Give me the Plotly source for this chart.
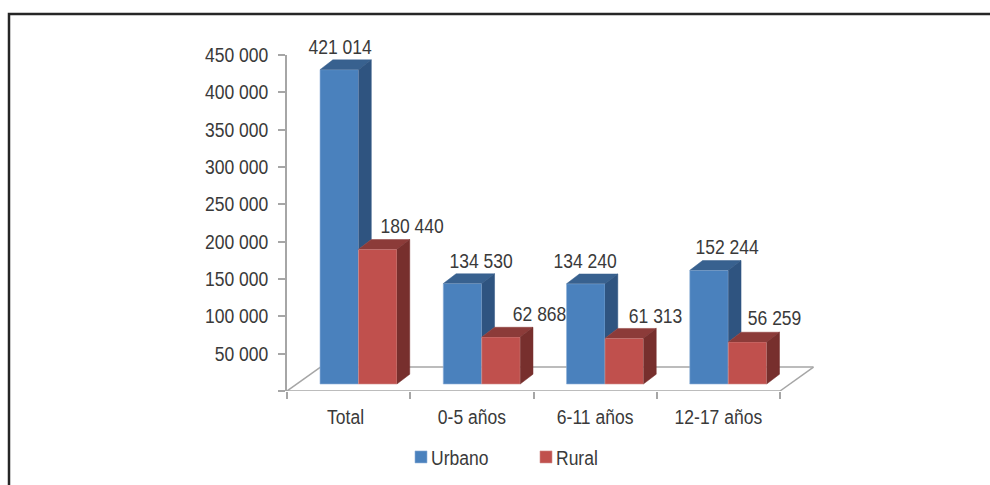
import plotly.graph_objects as go

categories = ["Total", "0-5 años", "6-11 años", "12-17 años"]
urbano = [421014, 134530, 134240, 152244]
rural = [180440, 62868, 61313, 56259]
y_ticks = [0, 50000, 100000, 150000, 200000, 250000, 300000, 350000, 400000, 450000]
y_labels = ["", "50 000", "100 000", "150 000", "200 000", "250 000", "300 000", "350 000", "400 000", "450 000"]

W, H = 990, 485
L, R, T, B = 287, 814, 55, 391.5
PX_X = (780 - 287) / 4            # pixels per category
PX_Y = (B - T) / 450000           # pixels per value unit
BASE = 7.0 / PX_Y                 # bar foot above the front floor edge
DX = 12.8 / PX_X                  # bar depth
DY = 9.8 / PX_Y
FLOOR_DX = 33.5 / PX_X
FLOOR_DY = 24 / PX_Y
X_RANGE = (R - L) / PX_X
OFF_U, OFF_R, BW = 0.268, 0.580, 0.312

TXT = "#3a3a3a"
FONT = "Liberation Sans"
BLUE, BLUE_TOP, BLUE_SIDE = "#4a81bd", "#38618f", "#2f5480"
RED, RED_TOP, RED_SIDE = "#c0504d", "#8c3b39", "#772f2d"

fig = go.Figure()


def poly(xs, ys, color):
    fig.add_trace(go.Scatter(x=xs, y=ys, mode="lines", fill="toself", fillcolor=color,
                             line=dict(color=color, width=0.5), showlegend=False, hoverinfo="skip"))


fig.add_trace(go.Bar(name="Urbano", x=list(range(4)), y=urbano, base=BASE, offset=OFF_U, width=BW,
                     marker=dict(color=BLUE, line=dict(color="#8fb0d8", width=0.6))))
fig.add_trace(go.Bar(name="Rural", x=list(range(4)), y=rural, base=BASE, offset=OFF_R, width=BW,
                     marker=dict(color=RED, line=dict(color="#d08d8b", width=0.6))))

for i in range(4):
    # blue: side face is hidden below the red bar's top edge
    x0, x1 = i + OFF_U, i + OFF_U + BW
    top = urbano[i] + BASE
    rtop = rural[i] + BASE
    poly([x0, x0 + DX, x1 + DX, x1], [top, top + DY, top + DY, top], BLUE_TOP)
    poly([x1, x1 + DX, x1 + DX, x1], [top, top + DY, rtop + DY, rtop], BLUE_SIDE)
    # red
    x0, x1 = i + OFF_R, i + OFF_R + BW
    poly([x0, x0 + DX, x1 + DX, x1], [rtop, rtop + DY, rtop + DY, rtop], RED_TOP)
    poly([x1, x1 + DX, x1 + DX, x1], [rtop, rtop + DY, BASE + DY, BASE], RED_SIDE)

# floor outline, below the bars
floor = [
    (0, 0, 4, 0),
    (4, 0, 4 + FLOOR_DX, FLOOR_DY),
    (FLOOR_DX, FLOOR_DY, 4 + FLOOR_DX, FLOOR_DY),
    (0, 0, FLOOR_DX, FLOOR_DY),
]
shapes = [dict(type="line", xref="x", yref="y", x0=a, y0=b, x1=c, y1=d, layer="below",
               line=dict(color="#a6a6a6", width=1.5)) for a, b, c, d in floor]

# frame around the chart
shapes.append(dict(type="rect", xref="paper", yref="paper",
                   x0=(9 - L) / (R - L), x1=(1005 - L) / (R - L),
                   y0=(B - 500) / (B - T), y1=(B - 14) / (B - T),
                   line=dict(color="#262626", width=2.5)))

# data labels: pixel shift from the bar's top centre
label_shift_u = [-6, 12, -7.5, 11.5]
label_shift_r = [28, 32, 25, 21]
label_rise_u = [23, 22.5, 22.7, 23]
label_rise_r = [23, 23, 22, 24]
annotations = []
for i in range(4):
    for vals, off, shift, rise in ((urbano, OFF_U, label_shift_u, label_rise_u),
                                   (rural, OFF_R, label_shift_r, label_rise_r)):
        annotations.append(dict(x=i + off + BW / 2 + DX / 2, y=vals[i] + BASE, xref="x", yref="y",
                                text=f"{vals[i]:,}".replace(",", " "), showarrow=False,
                                xshift=shift[i], yshift=rise[i],
                                font=dict(family=FONT, size=20, color=TXT)))

fig.update_layout(
    width=W, height=H, autosize=False,
    margin=dict(l=L, r=W - R, t=T, b=H - B, pad=0, autoexpand=False),
    paper_bgcolor="white", plot_bgcolor="white",
    barmode="overlay",
    font=dict(family=FONT, size=20, color=TXT),
    shapes=shapes, annotations=annotations,
    legend=dict(orientation="h", x=(391 - L) / (R - L), xanchor="left",
                y=(B - 438) / (B - T), yanchor="top", entrywidth=80, entrywidthmode="pixels",
                bgcolor="rgba(0,0,0,0)", font=dict(family=FONT, size=20, color=TXT)),
    xaxis=dict(range=[0, X_RANGE], showgrid=False, zeroline=False, showline=False,
               tickvals=[0.475, 1.5, 2.5, 3.5], ticktext=categories, ticks="", ticklabelstandoff=12,
               minor=dict(tickvals=[0, 1, 2, 3, 4], ticks="outside", ticklen=7, tickwidth=1.5, tickcolor="#a6a6a6")),
    yaxis=dict(range=[0, 450000], showgrid=False, zeroline=False, showline=True, linecolor="#a6a6a6", linewidth=1.5,
               tickvals=y_ticks, ticktext=y_labels, ticks="outside", ticklen=7, tickwidth=1.5, tickcolor="#a6a6a6",
               ticklabelstandoff=6),
)

# Narrow the lettering (no condensed face is installed) and tuck the legend swatches next to their text.
post = """
document.body.style.margin='0';
document.querySelectorAll('.legendpoints').forEach(function(p){p.setAttribute('transform','translate(10,0)');});
document.querySelectorAll('svg text').forEach(function(t){
  var n=t.getComputedTextLength();
  if(n>0){t.setAttribute('textLength',n*0.875);t.setAttribute('lengthAdjust','spacingAndGlyphs');}
});
"""
fig.write_html("out.html", post_script=post, config={"displayModeBar": False})
